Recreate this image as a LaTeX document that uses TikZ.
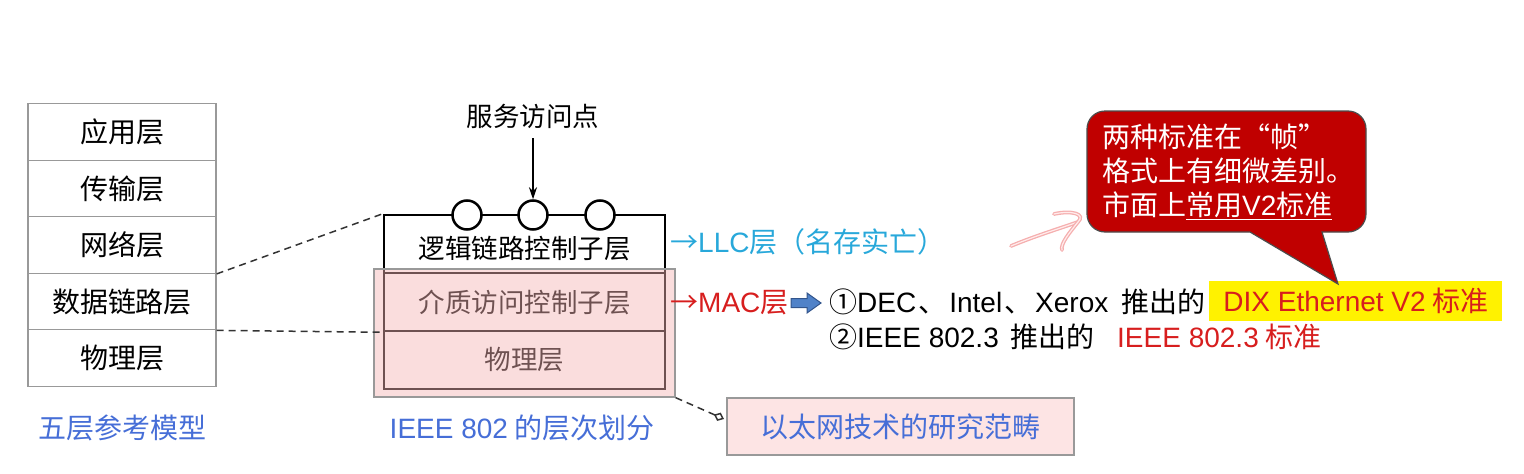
\documentclass[tikz,border=0pt]{standalone}
\usepackage{fontspec}
\setmainfont{Noto Sans CJK SC}
\newfontfamily\lat{Liberation Sans}
\usetikzlibrary{arrows.meta}
\definecolor{lblue}{RGB}{70,110,215}
\definecolor{lcyan}{RGB}{40,168,218}
\definecolor{lred}{RGB}{215,30,30}
\definecolor{cred}{RGB}{192,0,0}
\definecolor{ovpink}{RGB}{245,180,180}
\definecolor{boxpink}{RGB}{253,228,228}
\definecolor{hpink}{RGB}{245,175,175}
\definecolor{arrblue}{RGB}{80,130,200}
\definecolor{arrdark}{RGB}{50,85,140}
\newcommand{\fsz}[1]{\fontsize{#1}{#1}\selectfont}
\newcommand{\dun}{\hspace{2pt}、\hspace{3pt}}
\begin{document}
\begin{tikzpicture}[x=1pt,y=-1pt,
  stackbox/.style={draw=gray!80, line width=1.3pt, minimum width=188pt, minimum height=56.5pt, inner sep=0pt, font=\fsz{28}},
  midbox/.style={draw=black, line width=2.5pt, minimum width=281pt, minimum height=58pt, inner sep=0pt, font=\fsz{26.5}},
  sap/.style={circle, draw=black, fill=white, line width=2.5pt, minimum size=29pt, inner sep=0pt},
  captext/.style={font=\fsz{28}, text=lblue, inner sep=0pt},
  rtext/.style={font=\fsz{28}, inner sep=0pt, anchor=west},
  dashlink/.style={dashed, line width=1.5pt, draw=black!80, dash pattern=on 7pt off 5pt},
  handdrawn/.style={draw=hpink, line width=1.3pt, double=red!8, double distance=1.2pt, line cap=round}
]
\useasboundingbox (0,0) rectangle (1524,474);

% five-layer stack
\node[stackbox] (l1) at (122,132) {应用层};
\node[stackbox] (l2) at (122,188.5) {传输层};
\node[stackbox] (l3) at (122,245) {网络层};
\node[stackbox] (l4) at (122,301.5) {数据链路层};
\node[stackbox] (l5) at (122,358) {物理层};
\node[captext] (cap1) at (122,428) {五层参考模型};

% IEEE 802 boxes
\node[midbox] (llc) at (524.5,244) {};
\node[font=\fsz{26.5}, inner sep=0pt] (llct) at (524.5,249) {逻辑链路控制子层};
\node[midbox] (mac) at (524.5,302) {介质访问控制子层};
\node[midbox] (phy) at (524.5,360) {物理层};
\node[sap] (c1) at (467,215) {};
\node[sap] (c2) at (533,215) {};
\node[sap] (c3) at (600,215) {};
\node[font=\fsz{26.5}, inner sep=0pt] (saptext) at (533,116) {服务访问点};
\draw[line width=1.6pt, -{Stealth[length=12pt,width=8pt]}] (saptext.south) ++(0,10) -- (c2.north);

% overlay
\node[draw=gray!80, line width=1.3pt, fill=ovpink, fill opacity=0.45, minimum width=301pt, minimum height=128pt, inner sep=0pt] (ov) at (524.5,333) {};
\node[captext] (cap2) at (522,428) {{\lat IEEE 802} 的层次划分};

% dashed links
\draw[dashlink] (l3.south east) -- (llc.north west);
\draw[dashlink] (l4.south east) -- (mac.south west);

% ethernet box
\node[draw=gray!80, line width=1.3pt, fill=boxpink, minimum width=347pt, minimum height=57pt, font=\fsz{28}, text=lblue] (eth) at (900.5,426.5) {以太网技术的研究范畴};
\coordinate (dtip) at (724,419);
\draw[dashlink, -{Diamond[open,length=11pt,width=9pt,line width=1.5pt]}] (ov.south east) -- (dtip);

% right labels
\node[rtext, text=lcyan] (llcl) at (670,242) {→{\lat LLC}层（名存实亡）};
\node[rtext, text=lred] (macl) at (670,303) {→{\lat MAC}层};
\draw[fill=arrblue, draw=arrdark, line width=1pt] (791,298.5) -- (807,298.5) -- (807,293) -- (821,303) -- (807,313) -- (807,307.5) -- (791,307.5) -- cycle;
\node[rtext] (s1) at (829,302) {①{\lat DEC}\dun{\lat Intel}\dun{\lat Xerox}\hspace{13pt}推出的};
\node[rtext, fill=yellow, text=lred, minimum width=293pt, minimum height=40pt, inner xsep=6pt] (dix) at (1209,301) {{\lat DIX Ethernet V2} 标准};
\node[rtext] (s2) at (829,337) {②{\lat IEEE 802.3}\hspace{12pt}推出的};
\node[rtext, text=lred] (ieee) at (1117,337) {{\lat IEEE 802.3} 标准};

% callout
\draw[fill=cred, draw=black!70, line width=1.2pt, rounded corners=18pt]
  (1087,170) -- (1087,111) -- (1366,111) -- (1366,232) [sharp corners] -- (1322,232) -- (1338,284) -- (1250,232) [rounded corners=18pt] -- (1087,232) -- cycle;
\node[anchor=north west, text=white, align=left, font=\fontsize{28}{34}\selectfont, inner sep=0pt] (callout) at (1102,124)
  {两种标准在“帧”\\格式上有细微差别。\\市面上\underline{常用{\lat V2}标准}};

% pink hand-drawn arrow
\coordinate (pa) at (1011,246);
\coordinate (pb) at (1078,222);
\draw[handdrawn] (pa) .. controls (1035,236) and (1058,229) .. (pb);
\draw[handdrawn] (1054,214) .. controls (1072,210) and (1086,214) .. (pb) .. controls (1070,232) and (1060,244) .. (1062,250);
\end{tikzpicture}
\end{document}
